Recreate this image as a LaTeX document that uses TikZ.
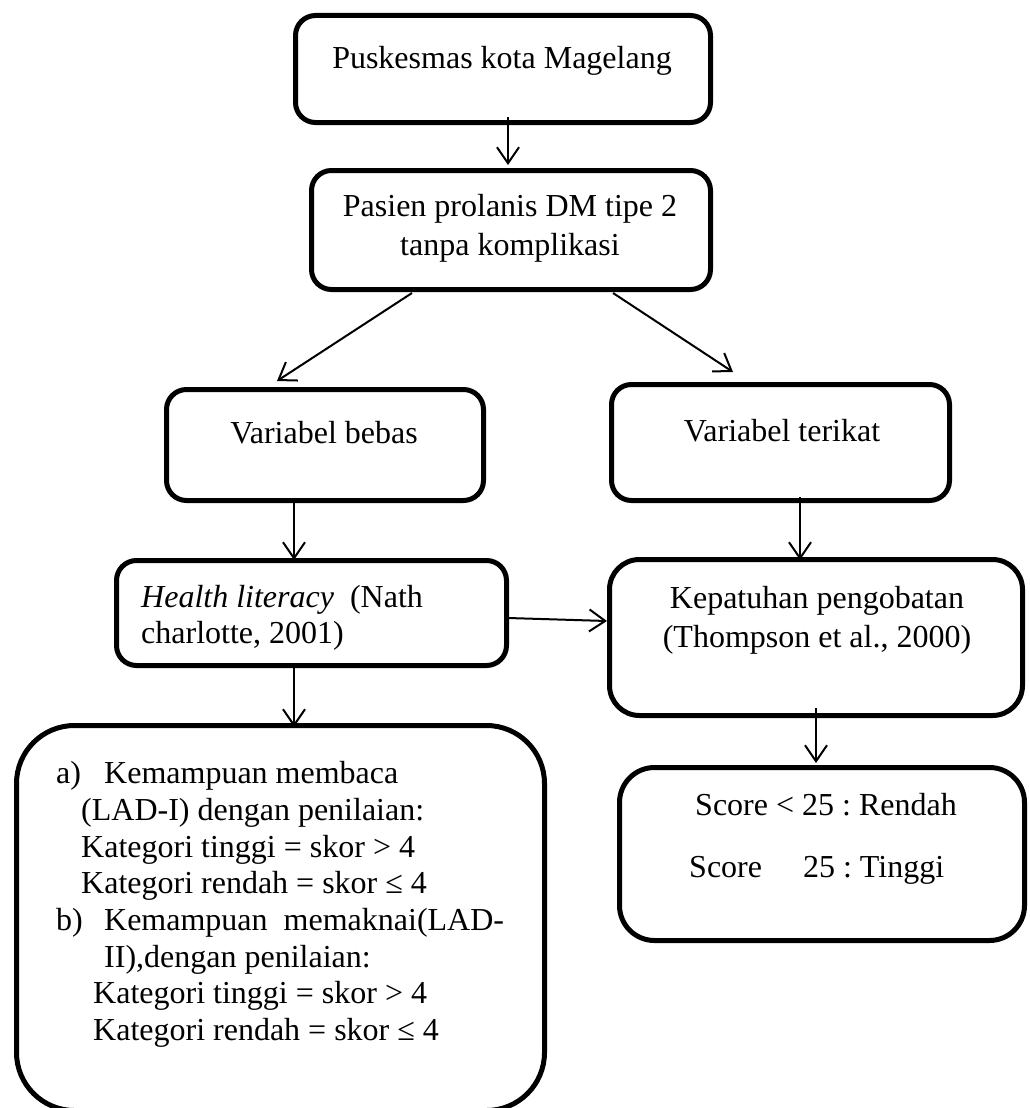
\documentclass[tikz,border=0pt]{standalone}
\usepackage{fontspec}
\setmainfont{Liberation Serif}
\usetikzlibrary{arrows.meta}
\frenchspacing
\begin{document}
\begin{tikzpicture}[x=1pt,y=-1pt,
  box/.style={draw, line width=5pt, rounded corners=20pt, inner sep=0pt, anchor=center},
  arr/.style={-{Straight Barb[length=16pt,width=22pt,line width=2pt]}, line width=2pt},
  txt/.style={inner sep=0pt, font=\fontsize{32}{38}\selectfont},
  tl/.style={txt, anchor=base west},
  tc/.style={txt, anchor=base}]
\clip (0,0) rectangle (1030,1108);
\fill[white] (0,0) rectangle (1030,1108);
% boxes
\node[box, minimum width=415pt, minimum height=107pt] (b1) at (503,69) {};
\node[box, minimum width=399pt, minimum height=119pt] (b2) at (511,230) {};
\node[box, minimum width=317pt, minimum height=111pt] (b3) at (325,445) {};
\node[box, minimum width=338pt, minimum height=116pt] (b4) at (780.5,442.5) {};
\node[box, minimum width=390pt, minimum height=105pt] (b5) at (311.5,613) {};
\node[box, rounded corners=30pt, minimum width=413pt, minimum height=156pt] (b6) at (816,637.5) {};
\node[box, rounded corners=58pt, minimum width=528pt, minimum height=385pt] (b7) at (280.5,918) {};
\node[box, rounded corners=35pt, minimum width=405pt, minimum height=173pt] (b8) at (822,854) {};
% texts
\node[tc] (t1) at (502,68) {Puskesmas kota Magelang};
\node[tc] (t2a) at (510,216) {Pasien prolanis DM tipe 2};
\node[tc] (t2b) at (510,255) {tanpa komplikasi};
\node[tc] (t3) at (324,443) {Variabel bebas};
\node[tc] (t4) at (782,441) {Variabel terikat};
\node[tl] (t5a) at (141,607) {\textit{Health literacy}\ \ (Nath};
\node[tl] (t5b) at (141,643) {charlotte, 2001)};
\node[tc] (t6a) at (817,608) {Kepatuhan pengobatan};
\node[tc] (t6b) at (817,647) {(Thompson et al., 2000)};
\node[tl] (t7a) at (56,783) {\makebox[48pt][l]{a)}Kemampuan membaca};
\node[tl] (t7b) at (81,820) {(LAD-I) dengan penilaian:};
\node[tl] (t7c) at (81,857) {Kategori tinggi = skor > 4};
\node[tl] (t7d) at (81,893) {Kategori rendah = skor ≤ 4};
\node[tl] (t7e) at (56,930) {\makebox[48pt][l]{b)}Kemampuan\ \ memaknai(LAD-};
\node[tl] (t7f) at (104,967) {II),dengan penilaian:};
\node[tl] (t7g) at (93,1003) {Kategori tinggi = skor > 4};
\node[tl] (t7h) at (93,1040) {Kategori rendah = skor ≤ 4};
\node[tl] (t8a) at (695,815) {Score < 25 : Rendah};
\node[tl] (t8b) at (689,877) {Score\hspace{41pt}25 : Tinggi};
% connectors
\draw[arr] ([xshift=5pt,yshift=8pt]b1.south) -- ([xshift=-3pt,yshift=3pt]b2.north);
\draw[arr] ([xshift=-99pt,yshift=-1pt]b2.south) -- ([xshift=-48pt,yshift=6pt]b3.north);
\draw[arr] ([xshift=102pt,yshift=-1pt]b2.south) -- ([xshift=-47.5pt,yshift=10pt]b4.north);
\draw[arr] ([xshift=-31pt,yshift=5pt]b3.south) -- ([xshift=-17.5pt,yshift=-2pt]b5.north);
\draw[arr] ([xshift=19.5pt,yshift=6pt]b4.south) -- ([xshift=-16pt,yshift=-3pt]b6.north);
\draw[arr] ([xshift=-17.5pt,yshift=3pt]b5.south) -- ([xshift=13.5pt,yshift=-4pt]b7.north);
\draw[arr] ([xshift=-1pt,yshift=-5pt]b5.east) -- ([yshift=16.5pt]b6.west);
\draw[arr] ([yshift=10pt]b6.south) -- ([xshift=-6pt,yshift=2pt]b8.north);
\end{tikzpicture}
\end{document}
